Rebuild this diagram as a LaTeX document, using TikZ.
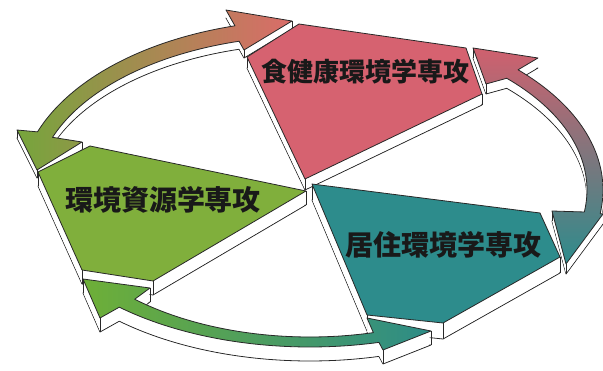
\documentclass[tikz,border=0pt]{standalone}
\usepackage{fontspec}
\newfontfamily\jp{Noto Sans CJK JP}
\definecolor{lc}{RGB}{40,40,40}
\definecolor{pinkF}{RGB}{214,98,112}
\definecolor{greenF}{RGB}{128,175,60}
\definecolor{tealF}{RGB}{45,140,140}
\definecolor{gA}{RGB}{118,165,60}
\definecolor{pA}{RGB}{218,108,105}
\definecolor{pB}{RGB}{208,96,110}
\definecolor{tB}{RGB}{45,140,140}
\definecolor{gC}{RGB}{110,175,55}
\definecolor{tC}{RGB}{45,140,135}
\begin{document}
\begin{tikzpicture}[x=1pt,y=-1pt,line join=round]
\tikzset{edge/.style={draw=lc,line width=0.8pt},
  label/.style={font=\jp\bfseries\fontsize{#1}{#1}\selectfont,text=black!90,inner sep=0pt}}
\fill[white] (0,0) rectangle (603,371);
\useasboundingbox (0,0) rectangle (603,371);
% paths
\def\pA{(17,130) -- (37,170) -- (82,142) -- plot[domain=200:255,samples=40] ({310+274*cos(\x)},{190+154*sin(\x)}) -- (244,50) -- (292,21) -- (226,10) -- plot[domain=255:200,samples=40] ({310+290*cos(\x)},{190+170*sin(\x)}) -- cycle}
\def\pB{(538,58) -- (473,48) -- (486,84) -- plot[domain=-45:8,samples=40] ({313+274*cos(\x)},{190+158*sin(\x)}) -- (552,211) -- (566,264) -- (603,214) -- plot[domain=8:-45,samples=40] ({313+290*cos(\x)},{190+170*sin(\x)}) -- cycle}
\def\pC{(83,279) -- (100,318) -- plot[domain=132:76,samples=50] ({310+285*cos(\x)},{192+155*sin(\x)}) -- (383,350) -- (431,331) -- (367,318) -- plot[domain=76:132,samples=50] ({310+262*cos(\x)},{190+147*sin(\x)}) -- (150,288) -- cycle}
\def\pPink{(305,179) -- (247,57) -- (299,24) -- (466,48) -- (482,94) -- cycle}
\def\pGreen{(306,191) -- (90,146) -- (38,172) -- (82,270) -- (153,281) -- cycle}
\def\pTeal{(312,184) -- (540,213) -- (560,257) -- (443,323) -- (367,315) -- cycle}
% slab helper: #1 path, #2 depth
\newcommand{\slabbase}[2]{%
  \path[edge,fill=white,yshift=-#2pt] #1;
  \foreach \s in {1,...,#2} \fill[white,yshift={(1-\s)*1pt}] #1;}
% arc A (top-left)
\slabbase{\pA}{8}
\foreach \p in {(17,130),(37,170),(82,142),(244,50),(292,21)} \draw[edge] \p -- ++(0,8);
\path[edge,left color=gA,right color=pA] \pA;
% pink sector
\slabbase{\pPink}{11}
\foreach \p in {(482,94),(305,179),(247,57)} \draw[edge] \p -- ++(0,11);
\path[edge,fill=pinkF] \pPink;
% green sector
\slabbase{\pGreen}{14}
\foreach \p in {(38,172),(82,270),(153,281),(306,191)} \draw[edge] \p -- ++(0,14);
\path[edge,fill=greenF] \pGreen;
% teal sector
\slabbase{\pTeal}{16}
\foreach \p in {(560,257),(443,323),(367,315),(312,184)} \draw[edge] \p -- ++(0,16);
\path[edge,fill=tealF] \pTeal;
% arc B (right)
\slabbase{\pB}{10}
\foreach \p in {(473,48),(486,84),(552,211),(566,264)} \draw[edge] \p -- ++(0,10);
\path[edge,top color=pB,bottom color=tB] \pB;
% arc C (bottom)
\slabbase{\pC}{14}
\foreach \p in {(83,279),(100,318),(150,288),(383,350),(431,331)} \draw[edge] \p -- ++(0,14);
\path[edge,left color=gC,right color=tC] \pC;
% labels
\node[label=26] (tpink) at (365,72) {食健康環境学専攻};
\node[label=28] (tgreen) at (163,200) {環境資源学専攻};
\node[label=28] (tteal) at (443,245) {居住環境学専攻};
\end{tikzpicture}
\end{document}
